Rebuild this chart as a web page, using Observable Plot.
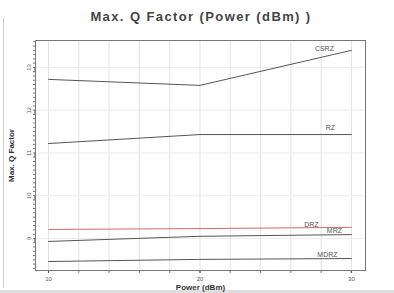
<!DOCTYPE html>
<html>
<head>
<meta charset="utf-8">
<script src="https://cdn.jsdelivr.net/npm/d3@7"></script>
<script src="https://cdn.jsdelivr.net/npm/@observablehq/plot@0.6"></script>
<style>
  body { margin: 0; background: #fff; }
  #wrap { position: relative; width: 394px; height: 293px; overflow: hidden; background: #fff;
          font-family: "Liberation Sans", Arial, sans-serif; }
  #title { position: absolute; top: 9px; left: 0; width: 402px; text-align: center;
           font-weight: bold; font-size: 13px; letter-spacing: 1.4px; color: #444; }
  #chart { position: absolute; top: 30px; left: 0; }
  #edgeL { position: absolute; left: 3px; top: 18px; width: 1px; height: 270px; background: #ccc; }
  #edgeB { position: absolute; left: 0; top: 290px; width: 394px; height: 3px; background: #ddd; }
</style>
</head>
<body>
<div id="wrap">
  <div id="edgeL"></div>
  <div id="edgeB"></div>
  <div id="title">Max. Q Factor (Power (dBm) )</div>
  <div id="chart"></div>
</div>
<script>
// Data
const power = [10, 20, 30];
const series = ["CSRZ", "RZ", "DRZ", "MRZ", "MDRZ"];
const CSRZ = [12.72, 12.58, 13.40];
const RZ   = [11.22, 11.43, 11.43];
const DRZ  = [9.21, 9.23, 9.26];
const MRZ  = [8.93, 9.05, 9.09];
const MDRZ = [8.46, 8.51, 8.53];
const xTicks = [10, 20, 30];
const yTicks = [9, 10, 11, 12, 13];

const values = {CSRZ, RZ, DRZ, MRZ, MDRZ};
const rows = series.flatMap(s => power.map((p, i) => ({series: s, power: p, q: values[s][i]})));
const colors = {CSRZ: "#555", RZ: "#555", DRZ: "#d66a6a", MRZ: "#555", MDRZ: "#555"};

const labelOffsets = {CSRZ: [-27, -2], RZ: [-21, -7], DRZ: [-40, -3], MRZ: [-17, -4], MDRZ: [-24, -4]};

const xDomain = [9.14, 30.93];
const yDomain = [8.25, 13.63];
const xMinor = d3.range(10, 31, 2);
const yMinor = d3.range(8.3, 13.62, 0.1).map(v => +v.toFixed(2));

const labelMarks = series.map(s => {
  const last = rows.filter(r => r.series === s).slice(-1);
  return Plot.text(last, {x: "power", y: "q", text: d => d.series,
    dx: labelOffsets[s][0], dy: labelOffsets[s][1], fontSize: 7, fill: "#555", textAnchor: "middle"});
});

const chart = Plot.plot({
  width: 394,
  height: 263,
  marginLeft: 35,
  marginRight: 29,
  marginTop: 10,
  marginBottom: 23,
  style: {fontFamily: "Liberation Sans, Arial, sans-serif", fontSize: "6px", color: "#555", background: "transparent"},
  x: {domain: xDomain},
  y: {domain: yDomain},
  marks: [
    Plot.gridX(xMinor, {stroke: "#e2e2e2", strokeOpacity: 1}),
    Plot.gridY(yTicks, {stroke: "#ececec", strokeOpacity: 1}),
    Plot.axisX(xMinor, {tickSize: 3, text: null, label: null, stroke: "#777"}),
    Plot.axisX(xTicks, {tickSize: 3, tickPadding: 3, fontSize: 6, fill: "#555", label: "Power (dBm)",
      labelAnchor: "center", labelArrow: "none", labelOffset: 19}),
    Plot.axisY(yMinor, {tickSize: 2, text: null, label: null, stroke: "#777"}),
    Plot.axisY(yTicks, {tickSize: 4, tickPadding: 2, rotate: -90, textAnchor: "middle", fontSize: 6, fill: "#555",
      label: "Max. Q Factor", labelAnchor: "center", labelArrow: "none", labelOffset: 27}),
    Plot.frame({stroke: "#777"}),
    Plot.line(rows, {x: "power", y: "q", z: "series", stroke: d => colors[d.series], strokeWidth: 1}),
    ...labelMarks
  ]
});
chart.querySelectorAll("g[aria-label='x-axis label'] text, g[aria-label='y-axis label'] text").forEach(t => {
  t.setAttribute("font-weight", "bold");
  t.setAttribute("font-size", "8");
  t.setAttribute("fill", "#333");
});
document.getElementById("chart").appendChild(chart);
</script>
</body>
</html>
